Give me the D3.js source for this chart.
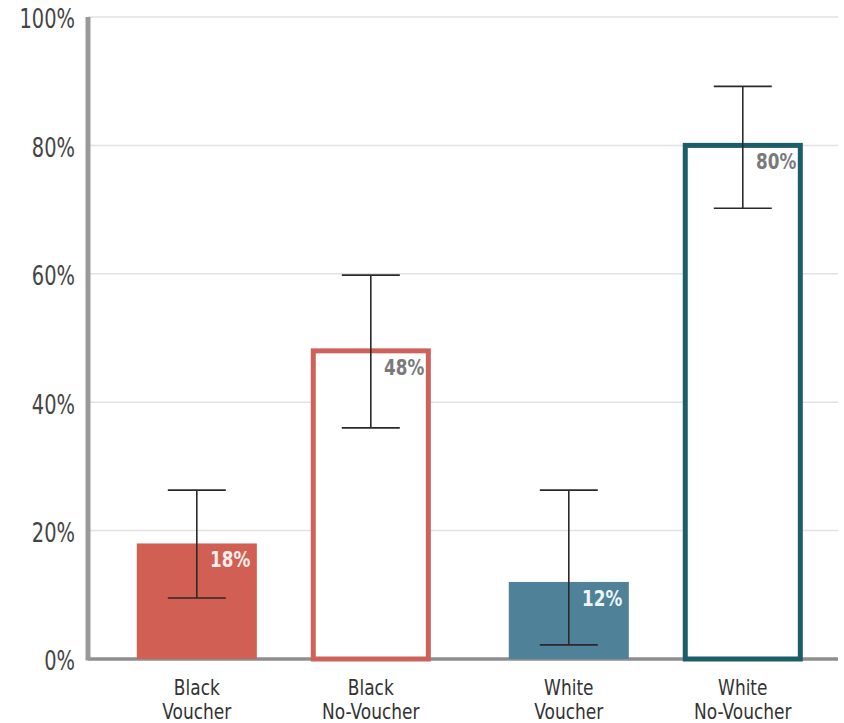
<!DOCTYPE html>
<html>
<head>
<meta charset="utf-8">
<script src="https://cdn.jsdelivr.net/npm/d3@7"></script>
<style>
  html, body { margin: 0; padding: 0; background: #fff; }
  svg { display: block; }
  text { font-family: "DejaVu Sans Condensed", "Liberation Sans Narrow", sans-serif; }
</style>
</head>
<body>
<svg id="chart" width="844" height="723"></svg>
<script>
// Share of applications, by race and voucher status
const groups = ["Black", "White"];
const statuses = ["Voucher", "No-Voucher"];
const categories = ["Black Voucher", "Black No-Voucher", "White Voucher", "White No-Voucher"];
const values = [18, 48, 12, 80];
const errLow = [9.5, 36, 2.2, 70.2];
const errHigh = [26.3, 59.8, 26.3, 89.2];
const yTicks = [0, 20, 40, 60, 80, 100];

const svg = d3.select("#chart");
const margin = { left: 88, right: 6, top: 17, bottom: 64 };
const W = 844, H = 723;

const y = d3.scaleLinear().domain([0, 100]).range([H - margin.bottom, margin.top]);

// outer band per race group, inner band per voucher status
const x0 = d3.scaleBand().domain(groups)
  .range([122, 817.6]).paddingInner(0.13).paddingOuter(0);
const x1 = d3.scaleBand().domain(statuses)
  .range([0, x0.bandwidth()]).paddingInner(0.31).paddingOuter(0.085);

const rows = categories.map((c, i) => ({
  name: c, group: groups[Math.floor(i / 2)], status: statuses[i % 2],
  value: values[i], lo: errLow[i], hi: errHigh[i]
}));
const bx = d => x0(d.group) + x1(d.status);
const bw = x1.bandwidth();

const styles = {
  "Black Voucher": { fill: "#d25f54", stroke: "none", label: "#fbeeec" },
  "Black No-Voucher": { fill: "#fff", stroke: "#cd625b", label: "#7a7a7a" },
  "White Voucher": { fill: "#4f8198", stroke: "none", label: "#eef4f7" },
  "White No-Voucher": { fill: "#fff", stroke: "#1c5d6a", label: "#7a7a7a" }
};
const outlined = d => styles[d.name].stroke !== "none";

// gridlines
svg.append("g").selectAll("line").data(yTicks.filter(t => t > 0)).join("line")
  .attr("x1", margin.left).attr("x2", W - margin.right)
  .attr("y1", d => y(d)).attr("y2", d => y(d))
  .attr("stroke", "#e2e2e2").attr("stroke-width", 1.5);

// y axis labels (narrowed horizontally)
const yAxis = svg.append("g").attr("transform", `translate(${margin.left},0)`)
  .call(d3.axisLeft(y).tickValues(yTicks).tickFormat(d => d + "%").tickSize(0).tickPadding(0));
yAxis.select(".domain").remove();
yAxis.selectAll("text")
  .attr("x", 0).attr("dy", "0.4em")
  .attr("transform", "translate(-13,0) scale(0.8,1)")
  .attr("font-size", 27).attr("fill", "#444");

// axis lines
svg.append("line")
  .attr("x1", margin.left).attr("x2", W - margin.right)
  .attr("y1", y(0)).attr("y2", y(0))
  .attr("stroke", "#8e8e8e").attr("stroke-width", 3.5);
svg.append("line")
  .attr("x1", margin.left).attr("x2", margin.left)
  .attr("y1", y(100)).attr("y2", y(0) + 1.5)
  .attr("stroke", "#999").attr("stroke-width", 5);

// bars
const sw = 5;
svg.append("g").selectAll("rect").data(rows).join("rect")
  .attr("x", d => outlined(d) ? bx(d) + sw / 2 : bx(d))
  .attr("width", d => outlined(d) ? bw - sw : bw)
  .attr("y", d => y(d.value))
  .attr("height", d => y(0) - y(d.value))
  .attr("fill", d => styles[d.name].fill)
  .attr("stroke", d => styles[d.name].stroke)
  .attr("stroke-width", sw);

// error bars
const eb = svg.append("g").attr("stroke", "#2a2a2a").attr("stroke-width", 1.6);
rows.forEach(d => {
  const cx = bx(d) + bw / 2;
  const cap = 29;
  eb.append("line").attr("x1", cx).attr("x2", cx).attr("y1", y(d.hi)).attr("y2", y(d.lo));
  eb.append("line").attr("x1", cx - cap).attr("x2", cx + cap).attr("y1", y(d.hi)).attr("y2", y(d.hi));
  eb.append("line").attr("x1", cx - cap).attr("x2", cx + cap).attr("y1", y(d.lo)).attr("y2", y(d.lo));
});

// value labels
svg.append("g").selectAll("text").data(rows).join("text")
  .attr("transform", d => `translate(${bx(d) + bw - 6.5},${y(d.value) + 24}) scale(0.85,1)`)
  .attr("text-anchor", "end")
  .attr("font-size", 22).attr("font-weight", "bold")
  .attr("fill", d => styles[d.name].label)
  .text(d => d.value + "%");

// category labels, two lines each
const xg = svg.append("g").selectAll("g").data(rows).join("g")
  .attr("transform", d => `translate(${bx(d) + bw / 2},${y(0) + 36}) scale(0.9,1)`)
  .attr("text-anchor", "middle")
  .attr("font-size", 21).attr("fill", "#333");
xg.append("text").attr("y", 0).text(d => d.group);
xg.append("text").attr("y", 24).text(d => d.status);
</script>
</body>
</html>
